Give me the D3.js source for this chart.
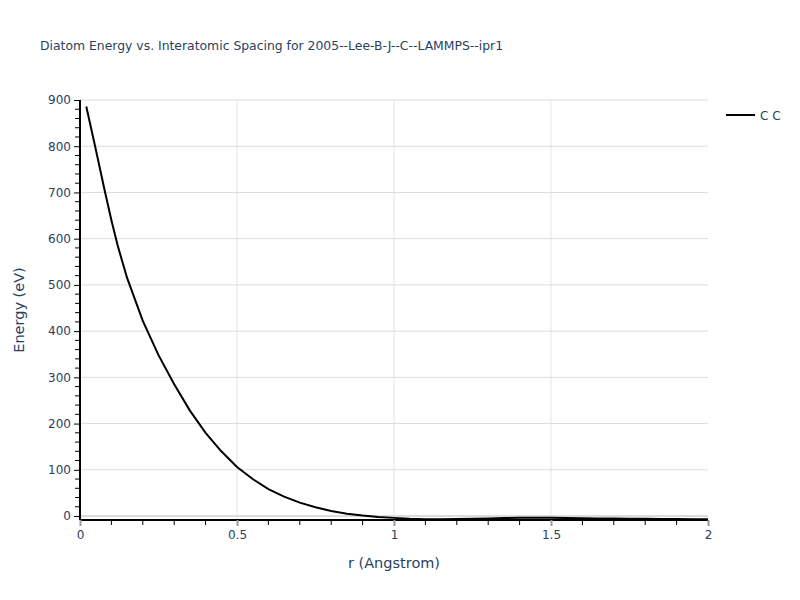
<!DOCTYPE html>
<html><head><meta charset="utf-8">
<script src="https://cdn.jsdelivr.net/npm/d3@7"></script>
<style>body{margin:0;background:#fff}text{font-family:"DejaVu Sans",Verdana,sans-serif}</style>
</head><body><svg id="c" width="800" height="600"></svg>
<script>
const title = "Diatom Energy vs. Interatomic Spacing for 2005--Lee-B-J--C--LAMMPS--ipr1";
const seriesName = "C C";
const rValues = [0.02,0.05,0.08,0.10,0.12,0.15,0.20,0.25,0.30,0.35,0.40,0.45,0.50,0.55,0.60,0.65,0.70,0.75,0.80,0.85,0.90,0.95,1.00,1.05,1.10,1.15,1.20,1.25,1.30,1.35,1.40,1.45,1.50,1.55,1.60,1.65,1.70,1.75,1.80,1.85,1.90,1.95,2.00];
const energyValues = [886,794,700,640,585,515,422,348,285,228,180,140,106,80,58,42,29,19,11,5,1,-2,-4,-6,-7,-7,-6.5,-6,-5.5,-4.5,-4,-3.5,-4,-4.5,-5,-5.5,-5.5,-6,-6,-6.5,-6.5,-7,-7];
const xTicks = [0,0.5,1,1.5,2];
const xTickLabels = ["0","0.5","1","1.5","2"];
const yTicks = [0,100,200,300,400,500,600,700,800,900];

const svg = d3.select("#c");
const L=80,R=708,T=100,B=520;
const x = d3.scaleLinear().domain([0,2]).range([L,R]);
const y = d3.scaleLinear().domain([-8.6,900]).range([B,T]);
const txtCol="#2a3f5f";

// grid
svg.append("g").selectAll("line").data(xTicks.filter(d=>d>0&&d<2)).join("line")
 .attr("x1",d=>x(d)).attr("x2",d=>x(d)).attr("y1",T).attr("y2",B).attr("stroke","#e5e5e5").attr("stroke-width",1);
svg.append("g").selectAll("line").data(yTicks.filter(d=>d>0)).join("line")
 .attr("x1",L).attr("x2",R).attr("y1",d=>y(d)).attr("y2",d=>y(d)).attr("stroke","#dcdcdc").attr("stroke-width",1);
svg.append("line").attr("x1",L).attr("x2",R).attr("y1",y(0)).attr("y2",y(0)).attr("stroke","#dcdcdc").attr("stroke-width",2);

// minor ticks
const xMinor = d3.range(0,21).map(i=>i/10).filter(d=>!xTicks.includes(d));
svg.append("g").selectAll("line").data(xMinor).join("line")
 .attr("x1",d=>x(d)).attr("x2",d=>x(d)).attr("y1",B).attr("y2",B+5).attr("stroke","#000");
const yMinor = d3.range(0,46).map(i=>i*20).filter(d=>d%100!==0);
svg.append("g").selectAll("line").data(yMinor).join("line")
 .attr("x1",L-5).attr("x2",L).attr("y1",d=>y(d)).attr("y2",d=>y(d)).attr("stroke","#000");

// axes
const xAxis = d3.axisBottom(x).tickValues(xTicks).tickFormat((d,i)=>xTickLabels[i]).tickSize(6).tickPadding(4);
const gx = svg.append("g").attr("transform",`translate(0,${B})`).call(xAxis);
gx.select(".domain").attr("stroke","#000").attr("stroke-width",2).attr("d",`M${L},0H${R}`);
gx.selectAll(".tick line").attr("stroke","#999").attr("stroke-width",2);
gx.selectAll(".tick text").attr("fill",txtCol).attr("font-size",12);

const yAxis = d3.axisLeft(y).tickValues(yTicks).tickSize(6).tickPadding(3);
const gy = svg.append("g").attr("transform",`translate(${L},0)`).call(yAxis);
gy.select(".domain").attr("stroke","#000").attr("stroke-width",2).attr("d",`M0,${B}V${T}`);
gy.selectAll(".tick line").attr("stroke","#000").attr("stroke-width",1);
gy.selectAll(".tick text").attr("fill",txtCol).attr("font-size",12);

// line
const data = rValues.map((r,i)=>({r, e:energyValues[i]}));
svg.append("path").datum(data).attr("fill","none").attr("stroke","#000").attr("stroke-width",2)
 .attr("d",d3.line().x(d=>x(d.r)).y(d=>y(d.e)));

// titles
svg.append("text").attr("x",40).attr("y",50).attr("fill",txtCol).attr("font-size",12.4).text(title);
svg.append("text").attr("x",(L+R)/2).attr("y",568).attr("text-anchor","middle").attr("fill",txtCol).attr("font-size",14.5).text("r (Angstrom)");
svg.append("text").attr("transform",`translate(24,${(T+B)/2}) rotate(-90)`).attr("text-anchor","middle").attr("fill",txtCol).attr("font-size",14.5).text("Energy (eV)");

// legend
svg.append("line").attr("x1",726).attr("x2",755).attr("y1",115).attr("y2",115).attr("stroke","#000").attr("stroke-width",2);
svg.append("text").attr("x",760).attr("y",119.5).attr("fill",txtCol).attr("font-size",12).text(seriesName);
</script></body></html>
